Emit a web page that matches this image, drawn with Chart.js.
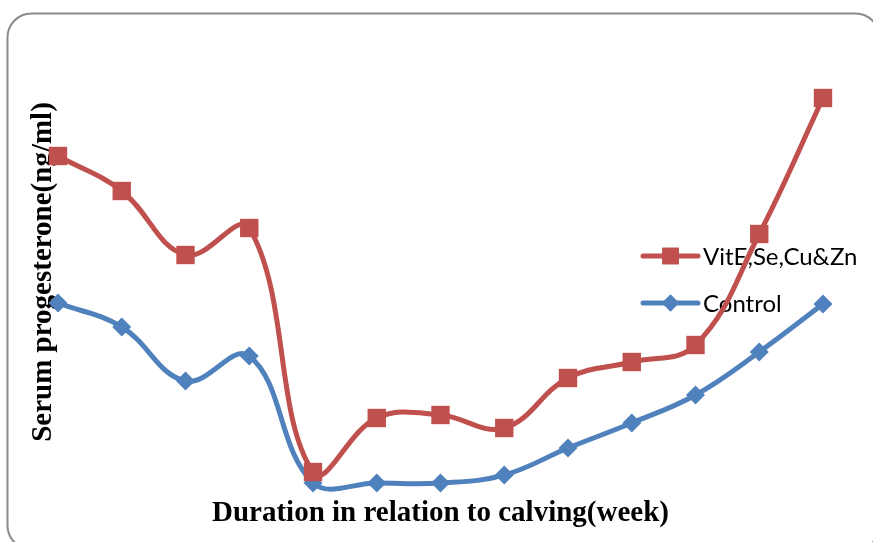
<!DOCTYPE html>
<html>
<head>
<meta charset="utf-8">
<script src="https://cdn.jsdelivr.net/npm/chart.js@4/dist/chart.umd.min.js"></script>
<style>
  html, body { margin: 0; padding: 0; background: #ffffff; }
  #wrap { width: 873px; height: 542px; }
</style>
</head>
<body>
<div id="wrap"><canvas id="c" width="873" height="542"></canvas></div>
<script>
// Weeks in relation to calving (tick labels are not shown in the original)
const weeks = ['1','2','3','4','5','6','7','8','9','10','11','12','13'];
// Serum progesterone (ng/ml)
const vitESeCuZn = [6.82, 6.12, 4.84, 5.38, 0.50, 1.58, 1.64, 1.38, 2.38, 2.70, 3.04, 5.26, 7.98];
const control    = [3.88, 3.40, 2.32, 2.82, 0.28, 0.28, 0.28, 0.44, 0.98, 1.48, 2.04, 2.90, 3.86];
const seriesNames = ['VitE,Se,Cu&Zn', 'Control'];
const xTitle = 'Duration in relation to calving(week)';
const yTitle = 'Serum progesterone(ng/ml)';

const RED = '#C0504D';
const BLUE = '#4F81BD';

const framePlugin = {
  id: 'frame',
  beforeDraw(chart) {
    const ctx = chart.ctx;
    ctx.save();
    ctx.fillStyle = '#ffffff';
    ctx.fillRect(0, 0, chart.width, chart.height);
    ctx.beginPath();
    ctx.roundRect(7.5, 13.5, 872, 536, 24);
    ctx.strokeStyle = '#8a8a8a';
    ctx.lineWidth = 2;
    ctx.stroke();
    ctx.restore();
  }
};

const legendPlugin = {
  id: 'innerLegend',
  beforeDatasetsDraw(chart) {
    const ctx = chart.ctx;
    const area = chart.chartArea;
    const x0 = area.right - 180;
    const lineLen = 55;
    const ys = [area.top + 209, area.top + 256];
    ctx.save();
    chart.data.datasets.forEach((ds, i) => {
      const y = ys[i];
      ctx.strokeStyle = ds.borderColor;
      ctx.lineWidth = ds.borderWidth;
      ctx.lineCap = 'round';
      ctx.beginPath();
      ctx.moveTo(x0, y);
      ctx.lineTo(x0 + lineLen, y);
      ctx.stroke();
      ctx.fillStyle = ds.backgroundColor;
      Chart.helpers.drawPoint(ctx, {pointStyle: ds.pointStyle, radius: ds.pointRadius * 0.9, borderWidth: 0, rotation: 0}, x0 + lineLen / 2, y);
      ctx.fill();
      ctx.fillStyle = '#000000';
      ctx.font = '24px Lato, "Open Sans", sans-serif';
      ctx.textBaseline = 'middle';
      ctx.textAlign = 'left';
      ctx.fillText(ds.label, x0 + lineLen + 5, y + 1);
    });
    ctx.restore();
  }
};

new Chart(document.getElementById('c'), {
  type: 'line',
  data: {
    labels: weeks,
    datasets: [
      {
        label: seriesNames[0],
        data: vitESeCuZn,
        borderColor: RED,
        backgroundColor: RED,
        borderWidth: 5,
        pointStyle: 'rect',
        pointRadius: 13,
        pointHoverRadius: 13,
        pointBorderWidth: 0,
        tension: 0.4,
        clip: false
      },
      {
        label: seriesNames[1],
        data: control,
        borderColor: BLUE,
        backgroundColor: BLUE,
        borderWidth: 5,
        pointStyle: 'rectRot',
        pointRadius: 9.5,
        pointHoverRadius: 9.5,
        pointBorderWidth: 0,
        tension: 0.4,
        clip: false
      }
    ]
  },
  options: {
    responsive: false,
    animation: false,
    devicePixelRatio: 1,
    layout: { padding: { left: 29, right: 50, top: 47, bottom: 14 } },
    plugins: {
      legend: { display: false },
      tooltip: { enabled: false }
    },
    scales: {
      x: {
        type: 'category',
        offset: false,
        grid: { display: false, drawTicks: false },
        border: { display: false },
        ticks: { display: false },
        title: {
          display: true,
          text: xTitle,
          color: '#000000',
          font: { family: '"Liberation Serif", "Times New Roman", serif', size: 29, weight: 'bold', lineHeight: 1 },
          padding: { top: 2, bottom: 0 }
        }
      },
      y: {
        min: 0,
        max: 9,
        grid: { display: false, drawTicks: false },
        border: { display: false },
        ticks: { display: false },
        title: {
          display: true,
          text: yTitle,
          color: '#000000',
          font: { family: '"Liberation Serif", "Times New Roman", serif', size: 29, weight: 'bold', lineHeight: 1 },
          padding: { top: 0, bottom: 0 }
        }
      }
    }
  },
  plugins: [framePlugin, legendPlugin]
});
</script>
</body>
</html>
